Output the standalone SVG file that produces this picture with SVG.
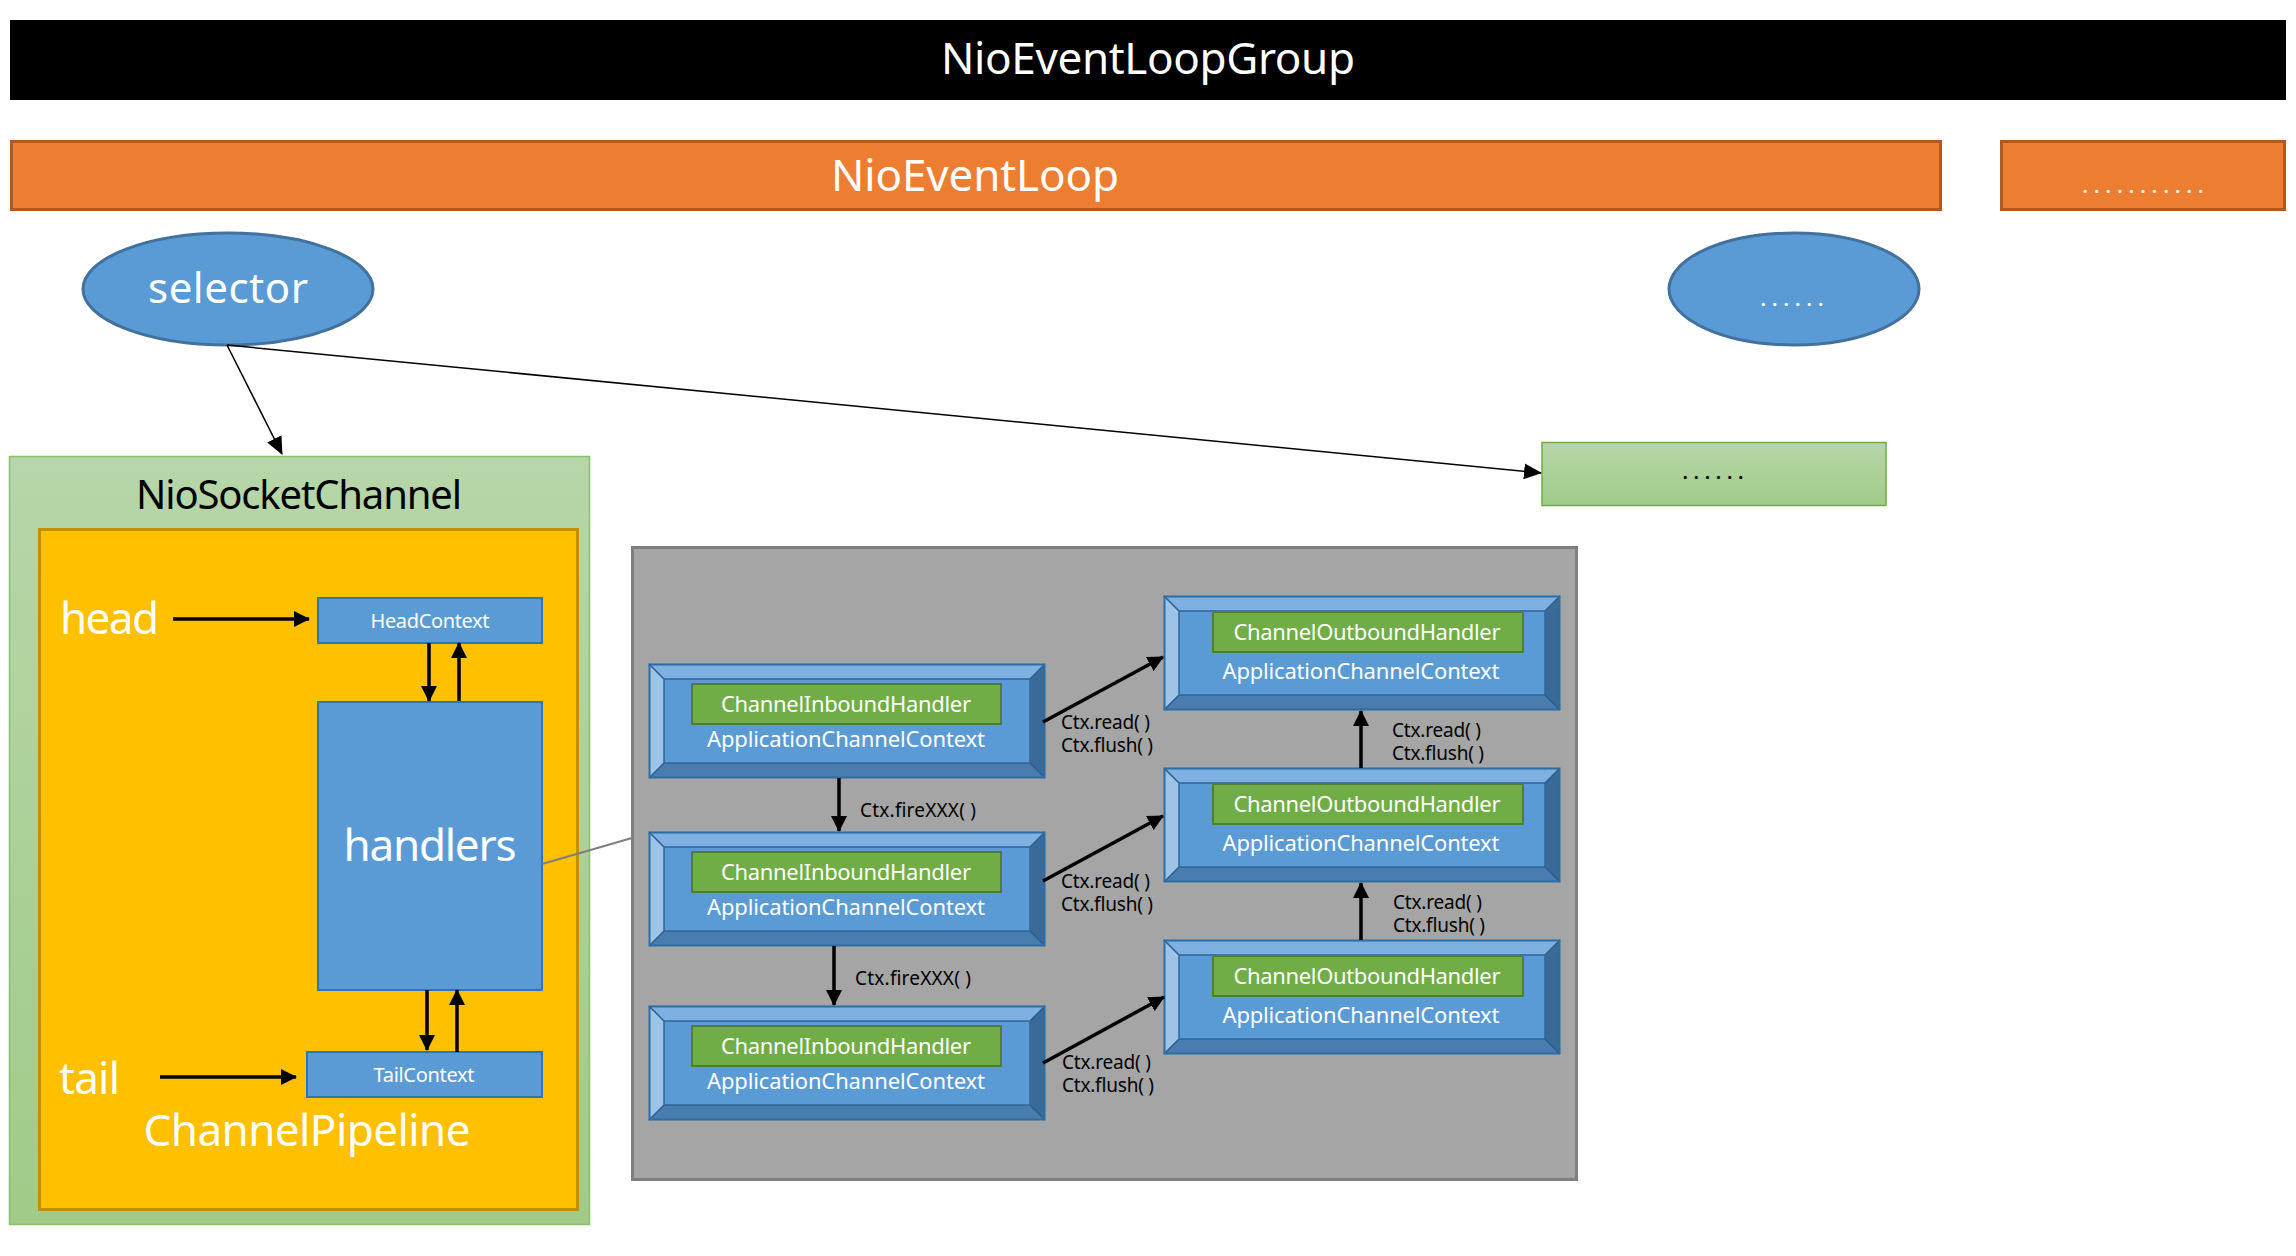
<svg xmlns="http://www.w3.org/2000/svg" width="2296" height="1256" viewBox="0 0 2296 1256">
<style>
text{font-family:"Noto Sans","Open Sans","Liberation Sans",sans-serif}
.w{fill:#fff}
.k{fill:#000}
.lbl{font-size:19px;fill:#000}
.ctx{font-size:22px;fill:#fff}
.thick{stroke:#000;stroke-width:3.5;fill:none}
.thin{stroke:#000;stroke-width:1.5;fill:none}
</style>
<defs>
<linearGradient id="gg" x1="0" y1="0" x2="0" y2="1">
<stop offset="0" stop-color="#B7D6A9"/>
<stop offset="1" stop-color="#A0CB88"/>
</linearGradient>
<marker id="ah" viewBox="0 0 16 16" refX="15" refY="8" markerWidth="16" markerHeight="16" markerUnits="userSpaceOnUse" orient="auto">
<path d="M0,0 L16,8 L0,16 z" fill="#000"/>
</marker>
<marker id="at" viewBox="0 0 18 16" refX="17" refY="8" markerWidth="18" markerHeight="16" markerUnits="userSpaceOnUse" orient="auto">
<path d="M0,0 L18,8 L0,16 z" fill="#000"/>
</marker>
<g id="bevel">
<rect x="0" y="0" width="396" height="114" fill="#5B9BD5"/>
<polygon points="0,0 396,0 381,15 15,15" fill="#7EB1E1"/>
<polygon points="0,0 15,15 15,99 0,114" fill="#9DC3E6"/>
<polygon points="396,0 396,114 381,99 381,15" fill="#3A6A98"/>
<polygon points="0,114 15,99 381,99 396,114" fill="#4A7DAF"/>
<path d="M0,0 L15,15 M396,0 L381,15 M0,114 L15,99 M396,114 L381,99" stroke="#2E5E8E" stroke-width="1.5"/>
<rect x="15" y="15" width="366" height="84" fill="none" stroke="#2E6699" stroke-width="1.5"/>
<rect x="0.5" y="0.5" width="395" height="113" fill="none" stroke="#2E6DA4" stroke-width="2"/>
</g>
</defs>
<rect width="2296" height="1256" fill="#fff"/>

<g id="group">
<rect x="10" y="20" width="2276" height="80" fill="#000"/>
<text x="1148" y="74" text-anchor="middle" class="w" font-size="44" textLength="414">NioEventLoopGroup</text>
</g>

<g id="eventloop">
<rect x="11.5" y="141.5" width="1929" height="68" fill="#ED7D31" stroke="#AE5A21" stroke-width="3"/>
<text x="975" y="191" text-anchor="middle" class="w" font-size="44" textLength="288">NioEventLoop</text>
</g>

<g id="eventloop-more">
<rect x="2001.5" y="141.5" width="283" height="68" fill="#ED7D31" stroke="#AE5A21" stroke-width="3"/>
<text x="2143" y="193" text-anchor="middle" class="w" font-size="24" textLength="122">...........</text>
</g>

<g id="selector">
<ellipse cx="228" cy="289" rx="145" ry="56" fill="#5B9BD5" stroke="#41719C" stroke-width="3"/>
<text x="228" y="303" text-anchor="middle" class="w" font-size="42" textLength="160">selector</text>
</g>

<g id="selector-more">
<ellipse cx="1794" cy="289" rx="125" ry="56" fill="#5B9BD5" stroke="#41719C" stroke-width="3"/>
<text x="1792" y="306" text-anchor="middle" class="w" font-size="24" textLength="64">......</text>
</g>

<g id="channel-more">
<rect x="1542" y="442.5" width="344" height="63" fill="url(#gg)" stroke="#70AD47" stroke-width="1.5"/>
<text x="1713" y="479" text-anchor="middle" class="k" font-size="24" textLength="62">......</text>
</g>

<g id="niosocketchannel">
<rect x="9.5" y="456.5" width="580" height="768" fill="url(#gg)" stroke="#8CBF6A" stroke-width="1.5"/>
<text x="299" y="509" text-anchor="middle" class="k" font-size="40" textLength="326">NioSocketChannel</text>
</g>

<g id="pipeline">
<rect x="39.5" y="529.5" width="538" height="680" fill="#FFC000" stroke="#BF9000" stroke-width="3"/>
<text x="60" y="634" class="w" font-size="44" textLength="99">head</text>
<text x="59" y="1094" class="w" font-size="44" textLength="61">tail</text>
<text x="307" y="1146" text-anchor="middle" class="w" font-size="44" textLength="327">ChannelPipeline</text>
</g>

<g id="headcontext">
<rect x="318" y="598" width="224" height="45" fill="#5B9BD5" stroke="#2E75B6" stroke-width="2"/>
<text x="430" y="628" text-anchor="middle" class="w" font-size="20" textLength="119">HeadContext</text>
</g>

<g id="handlers">
<rect x="318" y="702" width="224" height="288" fill="#5B9BD5" stroke="#2E75B6" stroke-width="2"/>
<text x="430" y="861" text-anchor="middle" class="w" font-size="44" textLength="173">handlers</text>
</g>

<g id="tailcontext">
<rect x="307" y="1052" width="235" height="45" fill="#5B9BD5" stroke="#2E75B6" stroke-width="2"/>
<text x="424" y="1082" text-anchor="middle" class="w" font-size="20" textLength="101">TailContext</text>
</g>

<g id="handlers-detail">
<rect x="632.5" y="547.5" width="944" height="632" fill="#A5A5A5" stroke="#7F7F7F" stroke-width="3"/>
</g>

<g id="inbound1" transform="translate(649,664)">
<use href="#bevel"/>
<rect x="43" y="20" width="309" height="40" fill="#70AD47" stroke="#507E32" stroke-width="2"/>
<text x="197" y="48" text-anchor="middle" class="ctx" textLength="250">ChannelInboundHandler</text>
<text x="197" y="83" text-anchor="middle" class="ctx" textLength="278">ApplicationChannelContext</text>
</g>
<g id="inbound2" transform="translate(649,832)">
<use href="#bevel"/>
<rect x="43" y="20" width="309" height="40" fill="#70AD47" stroke="#507E32" stroke-width="2"/>
<text x="197" y="48" text-anchor="middle" class="ctx" textLength="250">ChannelInboundHandler</text>
<text x="197" y="83" text-anchor="middle" class="ctx" textLength="278">ApplicationChannelContext</text>
</g>
<g id="inbound3" transform="translate(649,1006)">
<use href="#bevel"/>
<rect x="43" y="20" width="309" height="40" fill="#70AD47" stroke="#507E32" stroke-width="2"/>
<text x="197" y="48" text-anchor="middle" class="ctx" textLength="250">ChannelInboundHandler</text>
<text x="197" y="83" text-anchor="middle" class="ctx" textLength="278">ApplicationChannelContext</text>
</g>

<g id="outbound1" transform="translate(1164,596)">
<use href="#bevel"/>
<rect x="49" y="16" width="310" height="40" fill="#70AD47" stroke="#507E32" stroke-width="2"/>
<text x="203" y="44" text-anchor="middle" class="ctx" textLength="267">ChannelOutboundHandler</text>
<text x="197" y="83" text-anchor="middle" class="ctx" textLength="277">ApplicationChannelContext</text>
</g>
<g id="outbound2" transform="translate(1164,768)">
<use href="#bevel"/>
<rect x="49" y="16" width="310" height="40" fill="#70AD47" stroke="#507E32" stroke-width="2"/>
<text x="203" y="44" text-anchor="middle" class="ctx" textLength="267">ChannelOutboundHandler</text>
<text x="197" y="83" text-anchor="middle" class="ctx" textLength="277">ApplicationChannelContext</text>
</g>
<g id="outbound3" transform="translate(1164,940)">
<use href="#bevel"/>
<rect x="49" y="16" width="310" height="40" fill="#70AD47" stroke="#507E32" stroke-width="2"/>
<text x="203" y="44" text-anchor="middle" class="ctx" textLength="267">ChannelOutboundHandler</text>
<text x="197" y="83" text-anchor="middle" class="ctx" textLength="277">ApplicationChannelContext</text>
</g>

<g id="connectors">
<line class="thin" x1="227" y1="345" x2="282" y2="454" marker-end="url(#at)"/>
<line class="thin" x1="227" y1="345" x2="1541" y2="473" marker-end="url(#at)"/>
<line class="thick" x1="173" y1="619" x2="309" y2="619" marker-end="url(#ah)"/>
<line class="thick" x1="429" y1="643" x2="429" y2="701" marker-end="url(#ah)"/>
<line class="thick" x1="459" y1="701" x2="459" y2="643" marker-end="url(#ah)"/>
<line class="thick" x1="427" y1="990" x2="427" y2="1050" marker-end="url(#ah)"/>
<line class="thick" x1="457" y1="1052" x2="457" y2="990" marker-end="url(#ah)"/>
<line class="thick" x1="160" y1="1077" x2="296" y2="1077" marker-end="url(#ah)"/>
<line x1="542" y1="864" x2="632" y2="838" stroke="#7F7F7F" stroke-width="2"/>
<line class="thick" x1="839" y1="778" x2="839" y2="831" marker-end="url(#ah)"/>
<line class="thick" x1="834" y1="946" x2="834" y2="1005" marker-end="url(#ah)"/>
<line class="thick" x1="1043" y1="722" x2="1163" y2="657" marker-end="url(#ah)"/>
<line class="thick" x1="1043" y1="881" x2="1163" y2="816" marker-end="url(#ah)"/>
<line class="thick" x1="1043" y1="1063" x2="1164" y2="997" marker-end="url(#ah)"/>
<line class="thick" x1="1361" y1="768" x2="1361" y2="711" marker-end="url(#ah)"/>
<line class="thick" x1="1361" y1="940" x2="1361" y2="883" marker-end="url(#ah)"/>
<text class="lbl" x="860" y="817" textLength="116">Ctx.fireXXX( )</text>
<text class="lbl" x="855" y="985" textLength="116">Ctx.fireXXX( )</text>
<text class="lbl" x="1061" y="729" textLength="89">Ctx.read( )</text>
<text class="lbl" x="1061" y="752" textLength="92">Ctx.flush( )</text>
<text class="lbl" x="1061" y="888" textLength="89">Ctx.read( )</text>
<text class="lbl" x="1061" y="911" textLength="92">Ctx.flush( )</text>
<text class="lbl" x="1062" y="1069" textLength="89">Ctx.read( )</text>
<text class="lbl" x="1062" y="1092" textLength="92">Ctx.flush( )</text>
<text class="lbl" x="1392" y="737" textLength="89">Ctx.read( )</text>
<text class="lbl" x="1392" y="760" textLength="92">Ctx.flush( )</text>
<text class="lbl" x="1393" y="909" textLength="89">Ctx.read( )</text>
<text class="lbl" x="1393" y="932" textLength="92">Ctx.flush( )</text>
</g>
</svg>
